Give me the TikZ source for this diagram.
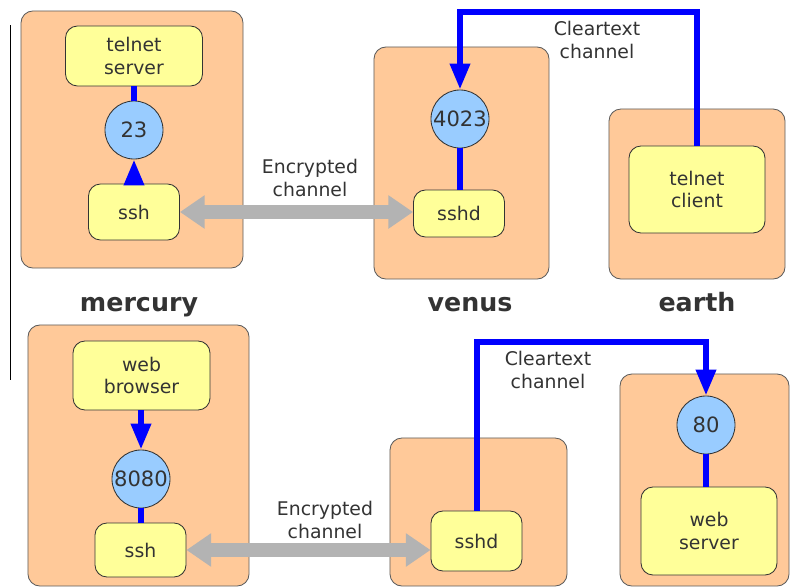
\documentclass[tikz,border=0pt]{standalone}
\usepackage{fontspec}
\setmainfont{DejaVu Sans}
\usetikzlibrary{arrows.meta}
\definecolor{hostfill}{RGB}{255,201,153}
\definecolor{progfill}{RGB}{255,255,153}
\definecolor{portfill}{RGB}{153,204,255}
\definecolor{inkgray}{RGB}{51,51,51}
\definecolor{linkblue}{RGB}{0,0,255}
\definecolor{tunnelgray}{RGB}{179,179,179}
\tikzset{
  hostbox/.style={draw=inkgray!80, fill=hostfill, rounded corners=0.3cm, line width=0.6pt},
  progbox/.style={draw=inkgray, fill=progfill, rounded corners=0.3cm, align=center,
                  text=inkgray, font=\fontsize{13.4}{16}\selectfont, line width=0.6pt},
  portcirc/.style={draw=inkgray, fill=portfill, circle, inner sep=0pt, minimum size=1.45cm,
                   text=inkgray, font=\fontsize{15}{18}\selectfont, line width=0.6pt},
  hostlabel/.style={anchor=base, font=\fontsize{18}{22}\selectfont\bfseries, text=inkgray},
  chanlabel/.style={align=center, text=inkgray, font=\fontsize{13.4}{16}\selectfont},
  bluelink/.style={linkblue, line width=0.15cm},
  bluearrow/.style={bluelink, -{Triangle[length=0.65cm, width=0.48cm]}},
  tunnel/.style={tunnelgray, line width=0.35cm,
                 {Triangle[length=0.62cm, width=0.8cm]}-{Triangle[length=0.62cm, width=0.8cm]}}
}

\begin{document}
\begin{tikzpicture}[x=0.025cm, y=-0.025cm]

\useasboundingbox (0,0) rectangle (790,587);

% Margin line
\draw[black, line width=0.6pt] (10,25) -- (10,380);

% Hosts, top row
\node[hostbox, minimum width=5.55cm, minimum height=6.425cm]  (merc1)  at (132,139.5) {};
\node[hostbox, minimum width=4.375cm, minimum height=5.8cm]   (venus1) at (461.5,163) {};
\node[hostbox, minimum width=4.4cm, minimum height=4.25cm]    (earth1) at (697,194) {};

% Programs and ports, top row
\node[progbox, minimum width=3.425cm, minimum height=1.5cm]   (tsrv)  at (134,56)    {telnet\\server};
\node[portcirc]                                                (p23)   at (134,130)   {23};
\node[progbox, minimum width=2.275cm, minimum height=1.4cm]   (ssh1)  at (134,212)   {ssh};
\node[portcirc]                                                (p4023) at (460,119)   {4023};
\node[progbox, minimum width=2.275cm, minimum height=1.175cm] (sshd1) at (459,213.5) {sshd};
\node[progbox, minimum width=3.4cm, minimum height=2.175cm]   (tcli)  at (697,189.5) {telnet\\client};

% Host names
\node[hostlabel] (mercname)  at (139,311) {mercury};
\node[hostlabel] (venusname) at (470,311) {venus};
\node[hostlabel] (earthname) at (697,311) {earth};

% Hosts, bottom row
\node[hostbox, minimum width=5.525cm, minimum height=6.525cm] (merc2)  at (138.5,455.5) {};
\node[hostbox, minimum width=4.425cm, minimum height=3.7cm]   (venus2) at (478.5,512) {};
\node[hostbox, minimum width=4.225cm, minimum height=5.3cm]   (earth2) at (704.5,480) {};

% Programs and ports, bottom row
\node[progbox, minimum width=3.425cm, minimum height=1.725cm] (wbr)   at (141.5,375.5) {web\\browser};
\node[portcirc]                                                (p8080) at (141,479)     {8080};
\node[progbox, minimum width=2.275cm, minimum height=1.35cm]  (ssh2)  at (140.5,550)   {ssh};
\node[progbox, minimum width=2.275cm, minimum height=1.5cm]   (sshd2) at (476.5,541)   {sshd};
\node[portcirc]                                                (p80)   at (706,425)     {80};
\node[progbox, minimum width=3.4cm, minimum height=2.2cm]     (wsrv)  at (709,531)     {web\\server};

% Channel labels
\node[chanlabel] (enc1) at (310,178) {Encrypted\\channel};
\node[chanlabel] (clr1) at (597,40)  {Cleartext\\channel};
\node[chanlabel] (enc2) at (325,520) {Encrypted\\channel};
\node[chanlabel] (clr2) at (548,370) {Cleartext\\channel};

% Corners of the cleartext links
\coordinate (bend1) at (460,12);
\coordinate (bend2) at (706,342);

% Links, top row
\draw[bluelink]  (tsrv) -- (p23);
\draw[bluearrow] (ssh1) -- (p23);
\draw[bluelink]  (p4023) -- (p4023 |- sshd1.north);
\draw[bluearrow] (tcli.north) |- (bend1) -- (p4023.north);
\draw[tunnel] (ssh1.east) -- (ssh1.east -| sshd1.west);

% Links, bottom row
\draw[bluearrow] (wbr.south -| p8080) -- (p8080);
\draw[bluelink]  (p8080) -- (p8080 |- ssh2.north);
\draw[bluelink]  (p80) -- (p80 |- wsrv.north);
\draw[bluearrow] (sshd2.north) |- (bend2) -- (p80.north);
\draw[tunnel] (ssh2.east) -- (ssh2.east -| sshd2.west);

\end{tikzpicture}
\end{document}
